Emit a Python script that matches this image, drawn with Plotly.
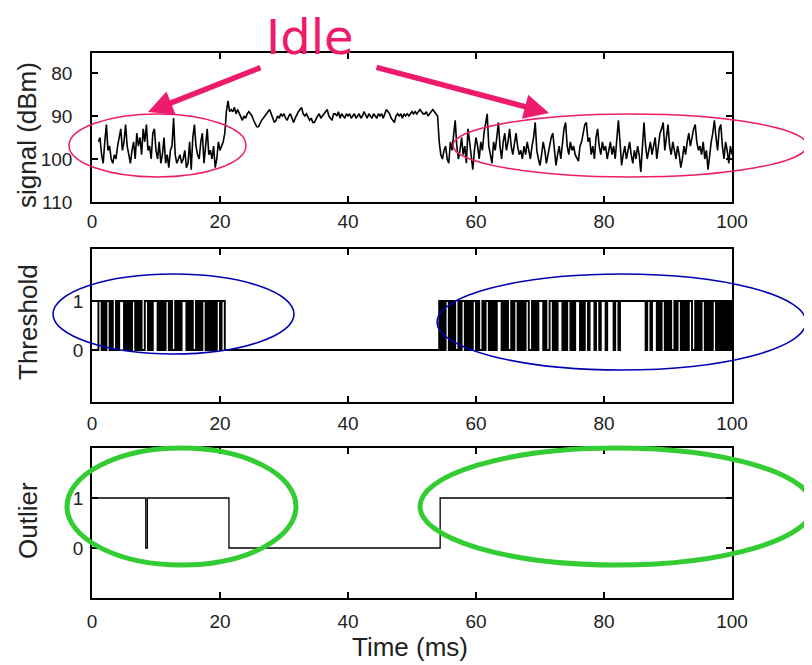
import numpy as np
import plotly.graph_objects as go

# ---------------- data ----------------
STEP = 0.25  # ms between samples

# signal (dBm, plotted as positive magnitude) - idle period 1, starts at 1.0 ms
sig_idle1_start = 1.0
sig_idle1 = [96, 95, 99, 101, 96, 92, 98, 97, 100, 101, 99, 100, 97, 95, 93, 98, 96, 92, 97, 99,
             101, 98, 96, 100, 94, 97, 95, 99, 93, 96, 92, 98, 97, 100, 94, 93, 98, 100, 96, 101,
             99, 95, 101, 99, 102, 98, 97, 90.5, 99, 101, 100, 99, 101, 100, 98, 102, 101, 96, 102.5, 95,
             92, 97, 99, 100, 96, 94, 101, 97, 93, 99, 98, 100, 97, 102, 100, 96, 98, 97, 96]

# busy period (transmission), starts at 20.75 ms
sig_busy_start = 20.75
sig_busy = [94, 89, 86.5, 89,
            88.5, 89, 88, 89.5, 88.5, 89.5, 90.5, 91, 90, 90.5, 89.5, 89, 89.5, 90, 91, 92, 92.5, 92.5,
            91.5, 91, 90.5, 90, 89.5, 89, 88.5, 89.5, 90.5, 91.5, 91, 90, 90.5, 89.5, 90, 89.5, 90.5, 91,
            90, 89.5, 90.5, 91.5, 90.5, 89.5, 89, 88.5, 88, 89.5, 90, 89.5, 90.5, 91, 90.5, 91.5, 91.5, 90.5,
            90, 89.5, 90.5, 90, 89.5, 89, 88.5, 90, 90.5, 91, 89.5, 89.5, 90, 89, 90.5, 89.5, 90, 90.5,
            89.5, 90, 89.5, 90.5, 90, 89.5, 90.5, 90, 89.5, 90.5, 90, 89, 90, 90.5, 89.5, 90, 90.5, 89.5,
            90, 90.5, 89.5, 90, 89.5, 90.5, 89.5, 88.5, 89, 89.5, 90.5, 91, 91.5, 90, 89.5, 90, 89.5, 90.5,
            89.5, 90, 89.5, 90, 89.5, 89, 89.5, 89, 89.5, 89, 88.5, 89, 89.5, 89.5, 89, 90, 89.5, 89,
            88.5, 89, 89.5, 90]

# idle period 2, starts at 54.25 ms
sig_idle2_start = 54.25
sig_idle2 = [96, 99, 100, 98, 97, 100, 101, 96, 98, 94, 91, 97, 100, 98, 95, 99, 97, 101, 93, 96,
             99, 102.5, 98, 95, 97, 100, 96, 98, 94, 92, 89.5, 97, 99, 101, 96, 98, 95, 91.5, 97, 100,
             96, 94, 98, 96, 93, 97, 99, 96, 94, 97, 99, 98, 100, 97, 99, 96, 98, 100, 97, 95,
             91.5, 98, 100, 101.5, 99, 96, 98, 101, 99, 97, 95, 94, 98, 101.5, 99, 97, 100, 96, 93, 91.5,
             97, 99, 96, 98, 97, 99, 100, 100.5, 97, 96, 94, 92, 91.5, 96, 95, 99, 97, 100, 95, 93,
             97, 99, 96, 98, 97, 100, 98, 96, 99, 97, 100, 95, 91, 96, 101.5, 99, 97, 100, 98, 96,
             99, 101, 98, 100, 97, 99, 103, 96, 91.5, 97, 100, 98, 96, 99, 97, 95, 100, 97, 94, 93,
             91.5, 98, 95, 92, 97, 99, 96, 98, 100, 97, 99, 102, 100, 97, 99, 96, 94, 97, 95, 93,
             92, 96, 98, 97, 99, 96, 100, 98, 102.5, 99, 96, 94, 91, 95, 98, 93, 92, 97, 100, 96,
             98, 101, 97, 99]

# threshold detector output (0/1)
thr_idle1_start = 0.5
thr_idle1 = [0, 0, 1, 1, 0, 1, 0, 1, 1, 0,
             1, 0, 0, 1, 0, 1, 1, 1, 0, 1,
             0, 1, 0, 1, 1, 0, 1, 0, 1, 0,
             0, 1, 1, 0, 1, 0, 1, 1, 1, 0,
             1, 0, 1, 0, 1, 1, 0, 1, 0, 0,
             1, 0, 1, 0, 1, 1, 1, 0, 1, 0,
             1, 0, 0, 1, 0, 1, 0, 1, 1, 0,
             1, 0, 1, 0, 1, 0, 1, 1, 0, 1,
             1, 0, 0]
thr_busy_t = [21.25, 54.0]
thr_busy = [0, 0]
thr_idle2a_start = 54.25
thr_idle2a = [1, 0, 1, 0, 1, 1, 0, 1, 0, 1,
              0, 0, 1, 0, 1, 1, 0, 1, 0, 1,
              0, 1, 1, 0, 1, 0, 0, 1, 0, 1,
              1, 0, 1, 0, 1, 0, 1, 1, 1, 0,
              1, 0, 1, 0, 0, 1, 0, 1, 1, 0,
              1, 0, 1, 0, 1, 1, 0, 0, 1, 0,
              1, 0, 1, 1, 1, 0, 1, 0, 0, 1,
              1, 0, 1, 0, 1, 1, 1, 0, 1, 0,
              1, 1, 0, 1, 0, 1, 1, 1, 0, 1,
              0, 1, 1, 0, 1, 1, 1, 0, 1, 1,
              0, 1, 1, 1, 0, 1, 1, 1, 1, 0,
              1, 1, 0]
thr_hold_t = [82.5, 86.25]
thr_hold = [1, 1]
thr_idle2b_start = 86.5
thr_idle2b = [0, 1, 1, 0, 1, 1, 1, 0, 1, 0,
              1, 1, 0, 1, 0, 1, 0, 0, 1, 0,
              1, 1, 0, 1, 0, 1, 0, 1, 1, 0,
              0, 1, 0, 1, 0, 1, 1, 0, 1, 0,
              1, 0, 1, 1, 0, 1, 0, 1, 0, 1,
              0, 1, 0, 1, 0]

# outlier detector output: change points (step after each time)
out_t = [0.5, 8.4, 8.65, 21.4, 54.4, 100]
out_v = [1, 0, 1, 0, 1, 1]

x_ticks = [0, 20, 40, 60, 80, 100]
sig_ticks = [80, 90, 100, 110]
bin_ticks = [0, 1]


def times(start, vals):
    return list(start + STEP * np.arange(len(vals)))


sig_t = times(sig_idle1_start, sig_idle1) + times(sig_busy_start, sig_busy) + times(sig_idle2_start, sig_idle2)
sig_v = sig_idle1 + sig_busy + sig_idle2

thr_t = (times(thr_idle1_start, thr_idle1) + thr_busy_t + times(thr_idle2a_start, thr_idle2a)
         + thr_hold_t + times(thr_idle2b_start, thr_idle2b))
thr_v = thr_idle1 + thr_busy + thr_idle2a + thr_hold + thr_idle2b

# ---------------- figure ----------------
OFF = 8  # page body margin
W, H = 812 - OFF, 665 - OFF


def px(x):
    return (x - OFF) / W


def py(y):
    return 1 - (y - OFF) / H


fig = go.Figure()
fig.add_trace(go.Scatter(x=sig_t, y=sig_v, mode="lines", line=dict(color="black", width=1.6),
                         xaxis="x", yaxis="y", showlegend=False))
fig.add_trace(go.Scatter(x=thr_t, y=thr_v, mode="lines", line=dict(color="black", width=1.9, shape="hv"),
                         xaxis="x2", yaxis="y2", showlegend=False))
fig.add_trace(go.Scatter(x=out_t, y=out_v, mode="lines", line=dict(color="black", width=1.3, shape="hv"),
                         xaxis="x3", yaxis="y3", showlegend=False))

tickfont = dict(family="Liberation Sans, Arial, sans-serif", size=19, color="#222222")
common_axis = dict(showline=True, linecolor="black", linewidth=1.6, mirror="ticks", ticks="inside",
                   ticklen=6, tickwidth=1.5, tickcolor="black", showgrid=False, zeroline=False,
                   tickfont=tickfont)

xdom = [px(92), px(732)]
fig.update_layout(
    width=W, height=H, template="none",
    margin=dict(l=0, r=0, t=0, b=0),
    paper_bgcolor="white", plot_bgcolor="white",
    xaxis=dict(domain=xdom, range=[0, 100], tickvals=x_ticks, anchor="y", ticklabelstandoff=1, **common_axis),
    yaxis=dict(domain=[py(202), py(53)], range=[110, 75.35], tickvals=sig_ticks, anchor="x",
               ticklabelstandoff=14, **common_axis),
    xaxis2=dict(domain=xdom, range=[0, 100], tickvals=x_ticks, anchor="y2", ticklabelstandoff=3, **common_axis),
    yaxis2=dict(domain=[py(402), py(249)], range=[-1.06, 2.06], tickvals=bin_ticks, anchor="x2",
                ticklabelstandoff=3, **common_axis),
    xaxis3=dict(domain=xdom, range=[0, 100], tickvals=x_ticks, anchor="y3", ticklabelstandoff=5, **common_axis),
    yaxis3=dict(domain=[py(598), py(448)], range=[-1.0, 2.0], tickvals=bin_ticks, anchor="x3",
                ticklabelstandoff=3, **common_axis),
)

title_font = dict(family="Liberation Sans, Arial, sans-serif", size=26, color="#222222")
ann = [
    dict(text="signal (dBm)", x=px(27), y=py(135), textangle=-90),
    dict(text="Threshold", x=px(28), y=py(322), textangle=-90),
    dict(text="Outlier", x=px(28), y=py(521), textangle=-90),
    dict(text="Time (ms)", x=px(410), y=py(647), textangle=0),
]
for a in ann:
    fig.add_annotation(xref="paper", yref="paper", showarrow=False, font=title_font,
                       xanchor="center", yanchor="middle", **a)

PINK = "#ee1a6b"
fig.add_annotation(xref="paper", yref="paper", x=px(310), y=1.0, text="Idle", showarrow=False,
                   font=dict(family="DejaVu Sans, Verdana, sans-serif", size=48, color=PINK),
                   xanchor="center", yanchor="top", borderpad=0)
# arrows from the label to the idle regions
fig.add_annotation(xref="paper", yref="paper", x=px(148), y=py(112), ax=262 - 148, ay=67 - 112,
                   text="", showarrow=True, arrowhead=2, arrowsize=0.9, arrowwidth=5.5, arrowcolor=PINK)
fig.add_annotation(xref="paper", yref="paper", x=px(549), y=py(113), ax=375 - 549, ay=67 - 113,
                   text="", showarrow=True, arrowhead=2, arrowsize=0.9, arrowwidth=5.5, arrowcolor=PINK)

# highlight ellipses
ellipses = [
    (69, 114, 246, 177, PINK, 1.5),
    (453, 114, 807, 177, PINK, 1.5),
    (53, 274, 294, 354, "#0000b4", 1.6),
    (437, 274, 806, 370, "#0000b4", 1.6),
    (67, 448, 296, 565, "#33cc33", 5),
    (420, 448, 813, 565, "#33cc33", 5),
]
for x0, y0, x1, y1, c, w in ellipses:
    fig.add_shape(type="circle", xref="paper", yref="paper", x0=px(x0), x1=px(x1), y0=py(y1), y1=py(y0),
                  line=dict(color=c, width=w), fillcolor="rgba(0,0,0,0)")

fig.write_html("out.html")
